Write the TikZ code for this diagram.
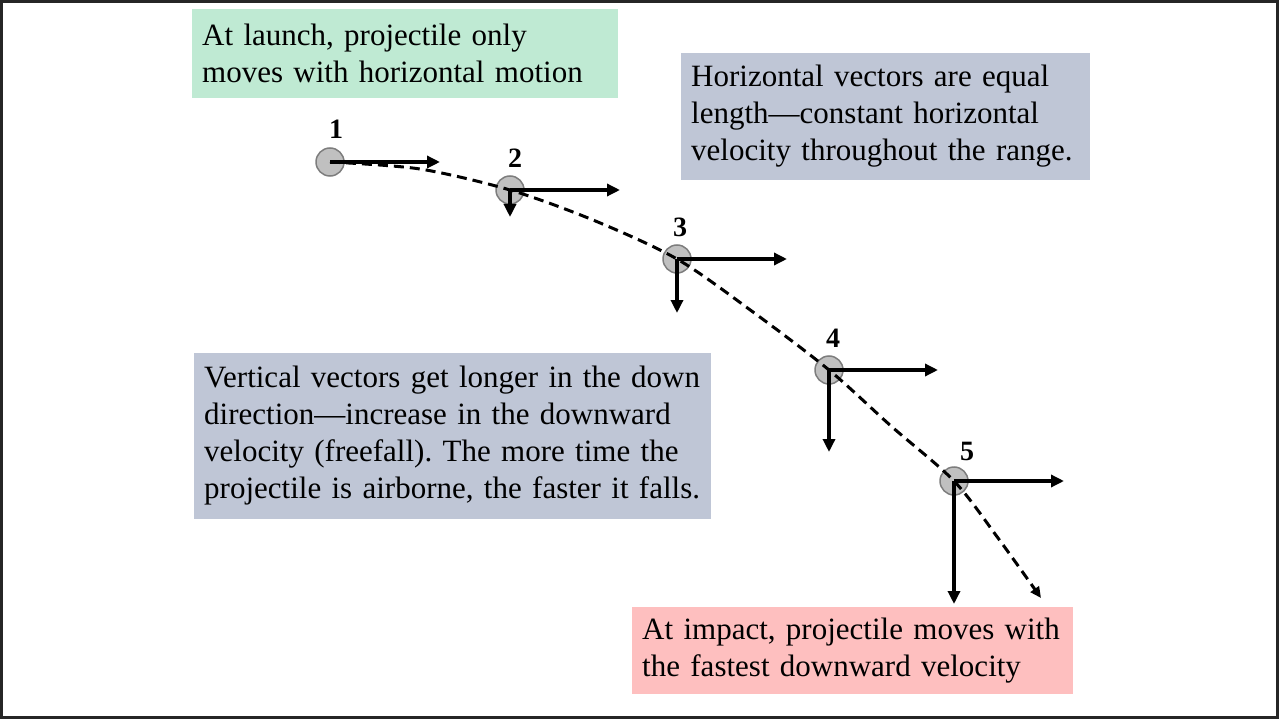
\documentclass[tikz,border=0pt]{standalone}
\usepackage{fontspec}
\setmainfont{Liberation Serif}
\usetikzlibrary{arrows.meta}
\definecolor{mint}{RGB}{191,234,211}
\definecolor{slate}{RGB}{191,198,214}
\definecolor{rose}{RGB}{254,191,191}
\definecolor{ballfill}{RGB}{192,192,192}
\definecolor{ballline}{RGB}{125,125,125}
\begin{document}
\frenchspacing
\begin{tikzpicture}[x=1pt,y=-1pt,
  note/.style={anchor=west, inner xsep=10pt, inner ysep=0pt, align=left,
    font=\fontsize{31}{37}\selectfont},
  ball/.style={circle, draw=ballline, fill=ballfill, line width=1.5pt,
    minimum size=28pt, inner sep=0pt},
  num/.style={font=\fontsize{28}{30}\selectfont\bfseries, inner sep=0pt},
  vec/.style={line width=3.3pt, -{Triangle[length=13pt,width=12pt]}},
  traj/.style={line width=3pt, dash pattern=on 10pt off 6pt,
    -{Triangle[length=11pt,width=10pt]}},
]
\useasboundingbox (0,0) rectangle (1279,719);
\draw[line width=3pt, black!85] (1.5,1.5) rectangle (1277.5,717.5);

% text boxes
\node[note, fill=mint, text width=406pt, minimum height=89pt] (launch) at (192,53.5)
  {\mbox{At launch, projectile only}\\\mbox{moves with horizontal motion}};
\node[note, fill=slate, text width=389pt, minimum height=127pt] (horiz) at (681,116.5)
  {\mbox{Horizontal vectors are equal}\\\mbox{length---constant horizontal}\\\mbox{velocity throughout the range.}};
\node[note, fill=slate, text width=497pt, minimum height=166pt] (vert) at (194,436)
  {\mbox{Vertical vectors get longer in the down}\\\mbox{direction---increase in the downward}\\\mbox{velocity (freefall). The more time the}\\\mbox{projectile is airborne, the faster it falls.}};
\node[note, fill=rose, text width=421pt, minimum height=87pt] (impact) at (632,650.5)
  {\mbox{At impact, projectile moves with}\\\mbox{the fastest downward velocity}};

% balls
\node[ball] (b1) at (330,162) {};
\node[ball] (b2) at (510,190) {};
\node[ball] (b3) at (677,259) {};
\node[ball] (b4) at (829,370) {};
\node[ball] (b5) at (954,481) {};

% labels
\node[num] (n1) at (336,129) {1};
\node[num] (n2) at (515,158) {2};
\node[num] (n3) at (680,227) {3};
\node[num] (n4) at (833,338) {4};
\node[num] (n5) at (967,451) {5};

% trajectory
\coordinate (end) at (1041,598);
\draw[traj] plot[smooth, tension=0.5] coordinates
  {(b1.center) (420,169) (b2.center) (593,220) (b3.center) (753,312)
   (b4.center) (891,426) (b5.center) (998,538) (end)};

% horizontal vectors
\coordinate (h1) at (440,162);
\coordinate (h2) at (620,190);
\coordinate (h3) at (787,259);
\coordinate (h4) at (938,370);
\coordinate (h5) at (1064,481);
% vertical vectors
\coordinate (v2) at (510,217);
\coordinate (v3) at (677,313);
\coordinate (v4) at (829,452);
\coordinate (v5) at (954,604);

\draw[vec] (b1.center) -- (h1);
\draw[vec] (b2.center) -- (h2);
\draw[vec] (b3.center) -- (h3);
\draw[vec] (b4.center) -- (h4);
\draw[vec] (b5.center) -- (h5);
\draw[vec] (b2.center) -- (v2);
\draw[vec] (b3.center) -- (v3);
\draw[vec] (b4.center) -- (v4);
\draw[vec] (b5.center) -- (v5);
\end{tikzpicture}
\end{document}
